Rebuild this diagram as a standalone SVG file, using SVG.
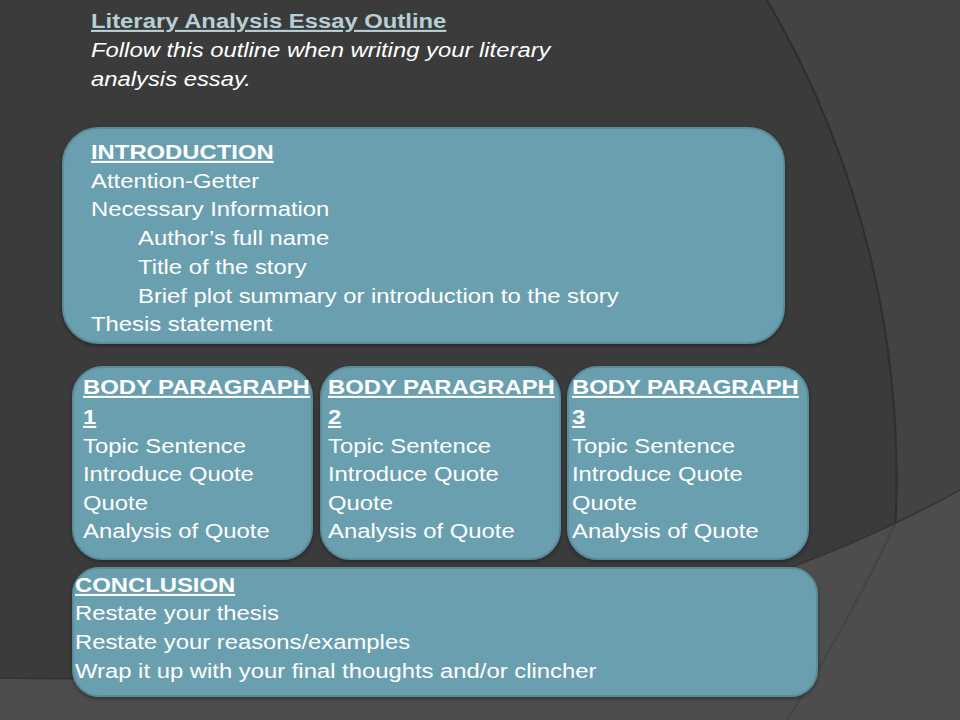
<svg xmlns="http://www.w3.org/2000/svg" width="960" height="720" viewBox="0 0 960 720">
<style>
.box{fill:#6a9fb0;stroke:#5a8c9c;stroke-width:2}
.t{font-family:"Liberation Sans",Arial,sans-serif;font-size:21px;fill:#ffffff}
.h{font-weight:bold;text-decoration:underline}
.arc{fill:none;stroke:#2e2e2e;stroke-width:2}
</style>
<defs>
<filter id="sh" x="-5%" y="-5%" width="110%" height="115%">
<feDropShadow dx="0" dy="2" stdDeviation="2" flood-color="#000" flood-opacity="0.35"/>
</filter>
</defs>
<g id="background">
<rect width="960" height="720" fill="#3b3b3b"/>
<path d="M767,0 A948,948 0 0 1 893,560 L960,560 L960,0 Z" fill="#434343"/>
<path class="arc" d="M767,0 A948,948 0 0 1 893,560"/>
<path d="M0,678 Q600,690 960,490 L960,720 L0,720 Z" fill="#4d4d4d"/>
<path d="M0,678 Q600,690 960,490" fill="none" stroke="#333" stroke-width="1.5"/>
<path d="M895,524 Q845,630 787,720" fill="none" stroke="#444" stroke-width="2"/>
</g>
<g id="title" transform="translate(91,0) scale(1.135,1)">
<text class="t" x="0" y="28" font-weight="bold" text-decoration="underline" style="fill:#b7cfd6">Literary Analysis Essay Outline</text>
<text class="t" x="0" y="57" font-style="italic">Follow this outline when writing your literary</text>
<text class="t" x="0" y="86" font-style="italic">analysis essay.</text>
</g>
<g id="introduction">
<rect class="box" x="63" y="128" width="721" height="215" rx="36" filter="url(#sh)"/>
<g transform="translate(91,0) scale(1.135,1)">
<text class="t h" x="0" y="159">INTRODUCTION</text>
<text class="t" x="0" y="188">Attention-Getter</text>
<text class="t" x="0" y="216.5">Necessary Information</text>
<text class="t" x="41.4" y="245">Author’s full name</text>
<text class="t" x="41.4" y="274">Title of the story</text>
<text class="t" x="41.4" y="303">Brief plot summary or introduction to the story</text>
<text class="t" x="0" y="331">Thesis statement</text>
</g>
</g>
<g id="body1">
<rect class="box" x="73" y="367" width="239" height="192" rx="30" filter="url(#sh)"/>
<g transform="translate(83,0) scale(1.135,1)">
<text class="t h" x="0" y="394">BODY PARAGRAPH</text>
<text class="t h" x="0" y="424">1</text>
<text class="t" x="0" y="453">Topic Sentence</text>
<text class="t" x="0" y="481.5">Introduce Quote</text>
<text class="t" x="0" y="510">Quote</text>
<text class="t" x="0" y="538.5">Analysis of Quote</text>
</g>
</g>
<g id="body2">
<rect class="box" x="321" y="367" width="239" height="192" rx="30" filter="url(#sh)"/>
<g transform="translate(328,0) scale(1.135,1)">
<text class="t h" x="0" y="394">BODY PARAGRAPH</text>
<text class="t h" x="0" y="424">2</text>
<text class="t" x="0" y="453">Topic Sentence</text>
<text class="t" x="0" y="481.5">Introduce Quote</text>
<text class="t" x="0" y="510">Quote</text>
<text class="t" x="0" y="538.5">Analysis of Quote</text>
</g>
</g>
<g id="body3">
<rect class="box" x="568" y="367" width="240" height="192" rx="30" filter="url(#sh)"/>
<g transform="translate(572,0) scale(1.135,1)">
<text class="t h" x="0" y="394">BODY PARAGRAPH</text>
<text class="t h" x="0" y="424">3</text>
<text class="t" x="0" y="453">Topic Sentence</text>
<text class="t" x="0" y="481.5">Introduce Quote</text>
<text class="t" x="0" y="510">Quote</text>
<text class="t" x="0" y="538.5">Analysis of Quote</text>
</g>
</g>
<g id="conclusion">
<rect class="box" x="73" y="568" width="744" height="128" rx="26" filter="url(#sh)"/>
<g transform="translate(75,0) scale(1.135,1)">
<text class="t h" x="0" y="592">CONCLUSION</text>
<text class="t" x="0" y="620">Restate your thesis</text>
<text class="t" x="0" y="649">Restate your reasons/examples</text>
<text class="t" x="0" y="678">Wrap it up with your final thoughts and/or clincher</text>
</g>
</g>
<g id="connectors"/>
</svg>
